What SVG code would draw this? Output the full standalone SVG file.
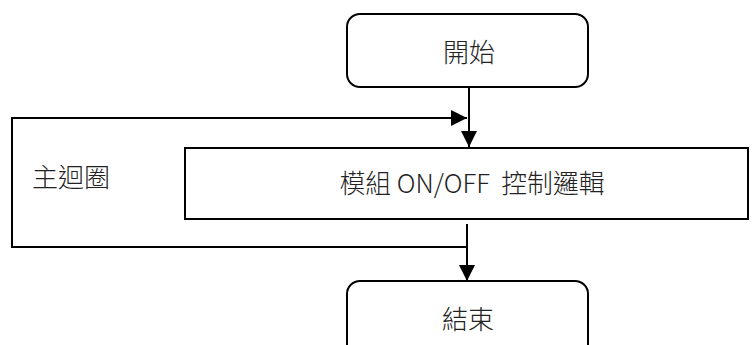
<svg xmlns="http://www.w3.org/2000/svg" width="756" height="345" viewBox="0 0 756 345">
<style>
.box{fill:#fff;stroke:#000;stroke-width:2}
.ln{fill:none;stroke:#000;stroke-width:2}
.t{font-family:"Noto Sans CJK TC","Noto Sans CJK SC",sans-serif;font-size:26px;font-weight:300;fill:#222;text-anchor:middle}
</style>
<defs>
<marker id="ah" markerWidth="16" markerHeight="16" viewBox="0 0 16 16" refX="16" refY="8" orient="auto" markerUnits="userSpaceOnUse">
<path d="M0,0 L16,8 L0,16 Z" fill="#000"/>
</marker>
</defs>
<g id="connectors">
<path class="ln" d="M469,87 L469,147" marker-end="url(#ah)"/>
<path class="ln" d="M467,247 L12,247 L12,118 L467,118" marker-end="url(#ah)"/>
<path class="ln" d="M467,224 L467,281" marker-end="url(#ah)"/>
</g>
<g id="start">
<rect class="box" x="347" y="14" width="241" height="73" rx="13"/>
<text class="t" x="469" y="62">開始</text>
</g>
<g id="main">
<rect class="box" x="185" y="148" width="563" height="71"/>
<text class="t" x="472" y="193" textLength="265" lengthAdjust="spacingAndGlyphs">模組 ON/OFF&#160; 控制邏輯</text>
</g>
<g id="loop-label">
<text class="t" x="71" y="187">主迴圈</text>
</g>
<g id="end">
<rect class="box" x="347" y="281" width="241" height="80" rx="13"/>
<text class="t" x="468" y="329">結束</text>
</g>
</svg>
